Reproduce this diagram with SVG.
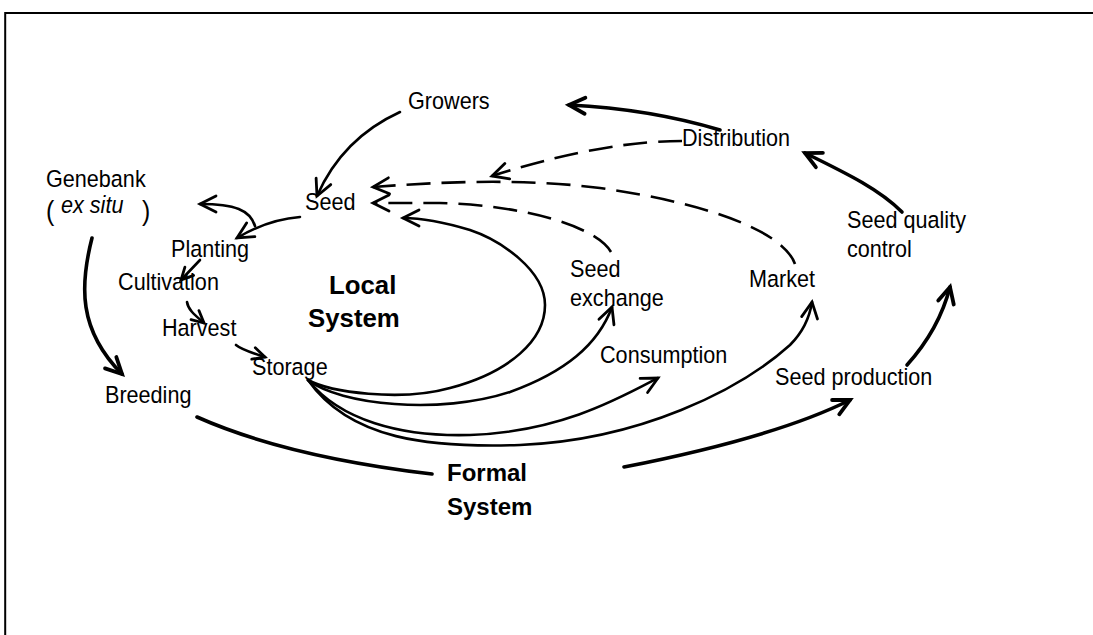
<svg xmlns="http://www.w3.org/2000/svg" width="1093" height="635" viewBox="0 0 1093 635">
<style>
text{font-family:"Liberation Sans",Arial,sans-serif;font-size:23.5px;fill:#000}
.b{font-weight:bold}
.c{fill:none;stroke:#000;stroke-width:2.6;stroke-linecap:round}
.t{stroke-width:3.6}
.d{stroke-dasharray:24 11;stroke-linecap:butt}
.ah{fill:none;stroke:#000;stroke-linecap:round;stroke-linejoin:miter;stroke-dasharray:none}
</style>
<defs>
<marker id="a" viewBox="-20 -12 24 24" refX="0" refY="0" markerWidth="24" markerHeight="24" markerUnits="userSpaceOnUse" orient="auto" overflow="visible">
<path class="ah" d="M-16,-8 L0,0 L-16,8" stroke-width="2.8"/>
</marker>
<marker id="at" viewBox="-20 -12 24 24" refX="0" refY="0" markerWidth="24" markerHeight="24" markerUnits="userSpaceOnUse" orient="auto" overflow="visible">
<path class="ah" d="M-16,-8 L0,0 L-16,8" stroke-width="3.8"/>
</marker>
<marker id="as" viewBox="-20 -12 24 24" refX="0" refY="0" markerWidth="24" markerHeight="24" markerUnits="userSpaceOnUse" orient="auto" overflow="visible">
<path class="ah" d="M-12,-6 L0,0 L-12,6" stroke-width="2.8"/>
</marker>
</defs>
<rect width="1093" height="635" fill="#fff"/>
<path d="M5.2,635 L5.2,13 L1093,13" fill="none" stroke="#000" stroke-width="2"/>

<g id="connectors">
<path class="c" d="M400,112 C365,128 335,155 317,196" marker-end="url(#a)"/>
<path class="c" d="M300,217 C275,219 252,229 237,238" marker-end="url(#a)"/>
<path class="c" d="M255,226 C250,210 235,204 200,204" marker-end="url(#a)"/>
<path class="c" d="M200,260 L181,280" marker-end="url(#as)"/>
<path class="c" d="M187,302 C188,310 196,316 204,323" marker-end="url(#as)"/>
<path class="c" d="M236,345 C242,350 252,353 265,357" marker-end="url(#as)"/>
<path class="c t" d="M92,238 C80,285 78,330 122,374" marker-end="url(#at)"/>
<path class="c t" d="M197,417 C260,445 340,463 432,474"/>
<path class="c t" d="M624,467 C680,456 780,435 850,400" marker-end="url(#at)"/>
<path class="c t" d="M907,365 C925,345 942,318 950,287" marker-end="url(#at)"/>
<path class="c t" d="M902,212 C880,190 850,175 805,153" marker-end="url(#at)"/>
<path class="c t" d="M720,130 C680,118 630,108 569,105" marker-end="url(#at)"/>
<path class="c" d="M308,380 C330,392 400,402 450,388 C510,372 545,340 545,305 C545,270 500,240 470,230 C440,221 420,218 403,218" marker-end="url(#a)"/>
<path class="c" d="M308,380 C340,405 440,415 510,392 C565,372 598,345 612,307" marker-end="url(#a)"/>
<path class="c" d="M308,380 C340,420 400,437 470,435 C560,432 620,398 658,378" marker-end="url(#a)"/>
<path class="c" d="M308,380 C350,440 430,448 520,445 C640,440 740,390 790,345 C805,330 810,315 812,302" marker-end="url(#a)"/>
<path class="c d" d="M682,141 C640,141 580,148 492,176" marker-end="url(#a)"/>
<path class="c d" d="M795,264 C785,235 720,205 600,188 C520,178 440,182 373,187" marker-end="url(#a)"/>
<path class="c d" d="M611,252 C595,225 520,205 440,203 L373,203" marker-end="url(#a)"/>
</g>

<g id="growers" transform="scale(0.92,1)"><text x="443.5" y="109">Growers</text></g>
<g id="distribution" transform="scale(0.92,1)"><text x="741.3" y="146">Distribution</text></g>
<g id="genebank" transform="scale(0.92,1)"><text x="50" y="187">Genebank</text>
<text x="50" y="220" style="font-size:27px">(</text><text x="66.3" y="213" style="font-style:italic">ex situ</text><text x="154.3" y="220" style="font-size:27px">)</text></g>
<g id="seed" transform="scale(0.92,1)"><text x="331.5" y="210">Seed</text></g>
<g id="planting" transform="scale(0.92,1)"><text x="185.9" y="257">Planting</text></g>
<g id="cultivation" transform="scale(0.92,1)"><text x="128.3" y="290">Cultivation</text></g>
<g id="harvest" transform="scale(0.92,1)"><text x="176.1" y="336">Harvest</text></g>
<g id="storage" transform="scale(0.92,1)"><text x="273.9" y="375">Storage</text></g>
<g id="breeding" transform="scale(0.92,1)"><text x="114.1" y="403">Breeding</text></g>
<g id="local-system"><text class="b" x="329" y="294" style="font-size:25.8px">Local</text><text class="b" x="308" y="327" style="font-size:25.8px">System</text></g>
<g id="seed-exchange" transform="scale(0.92,1)"><text x="619.6" y="277">Seed</text><text x="619.6" y="306">exchange</text></g>
<g id="market" transform="scale(0.92,1)"><text x="814.1" y="287">Market</text></g>
<g id="consumption" transform="scale(0.92,1)"><text x="652.2" y="363">Consumption</text></g>
<g id="seed-quality-control" transform="scale(0.92,1)"><text x="920.7" y="228">Seed quality</text><text x="920.7" y="257">control</text></g>
<g id="seed-production" transform="scale(0.92,1)"><text x="842.4" y="385">Seed production</text></g>
<g id="formal-system"><text class="b" x="447" y="481" style="font-size:24px">Formal</text><text class="b" x="447" y="515" style="font-size:24px">System</text></g>
</svg>
